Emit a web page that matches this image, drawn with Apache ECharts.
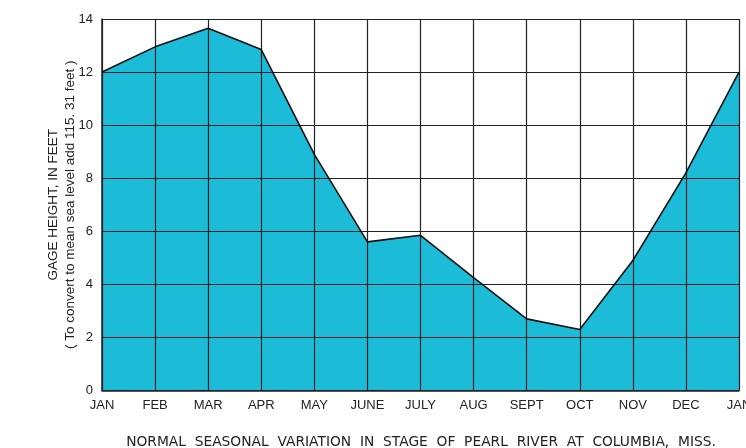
<!DOCTYPE html>
<html>
<head>
<meta charset="utf-8">
<script src="https://cdn.jsdelivr.net/npm/echarts@6/dist/echarts.min.js"></script>
<style>
  html, body { margin: 0; padding: 0; background: #fff; }
  #chart { width: 746px; height: 448px; }
</style>
</head>
<body>
<div id="chart"></div>
<script>
const months = ['JAN', 'FEB', 'MAR', 'APR', 'MAY', 'JUNE', 'JULY', 'AUG', 'SEPT', 'OCT', 'NOV', 'DEC', 'JAN'];
const gageHeight = [12.0, 12.95, 13.65, 12.85, 8.9, 5.6, 5.85, 4.25, 2.7, 2.3, 4.9, 8.2, 12.0];
const yTicks = [0, 2, 4, 6, 8, 10, 12, 14];

const ink = '#222';
const labelFont = 'Liberation Sans';

const chart = echarts.init(document.getElementById('chart'));

chart.setOption({
  animation: false,
  backgroundColor: '#fff',
  title: {
    text: 'NORMAL  SEASONAL  VARIATION  IN  STAGE  OF  PEARL  RIVER  AT  COLUMBIA,  MISS.',
    left: 416,
    textAlign: 'center',
    top: 430,
    textStyle: { fontFamily: 'DejaVu Sans', fontSize: 13.8, fontWeight: 'normal', color: ink }
  },
  grid: { left: 102, right: 7, top: 19, bottom: 57.5, outerBoundsMode: 'none' },
  xAxis: {
    type: 'category',
    data: months,
    boundaryGap: false,
    z: 3,
    axisLine: { lineStyle: { color: ink, width: 1.5 } },
    axisTick: { show: false },
    axisLabel: { color: ink, fontFamily: labelFont, fontSize: 13, margin: 8, interval: 0 },
    splitLine: { show: true, lineStyle: { color: ink, width: 1.2 } }
  },
  yAxis: {
    type: 'value',
    min: yTicks[0],
    max: yTicks[yTicks.length - 1],
    interval: 2,
    z: 3,
    name: 'GAGE HEIGHT, IN FEET\n( To convert to mean sea level add 115. 31 feet )',
    nameLocation: 'middle',
    nameRotate: 90,
    nameGap: 23,
    nameMoveOverlap: false,
    nameTextStyle: { color: ink, fontFamily: labelFont, fontSize: 13.5, lineHeight: 17 },
    axisLine: { show: true, lineStyle: { color: ink, width: 1.5 } },
    axisTick: { show: false },
    axisLabel: { color: ink, fontFamily: labelFont, fontSize: 13, margin: 9 },
    splitLine: { show: true, lineStyle: { color: ink, width: 1.2 } }
  },
  series: [
    {
      type: 'line',
      data: gageHeight,
      z: 1,
      symbol: 'none',
      lineStyle: { width: 0 },
      areaStyle: { color: '#1cbcd8', opacity: 1 }
    },
    {
      type: 'line',
      data: gageHeight,
      z: 5,
      symbol: 'none',
      lineStyle: { color: '#111', width: 1.6 }
    }
  ]
});
</script>
</body>
</html>
